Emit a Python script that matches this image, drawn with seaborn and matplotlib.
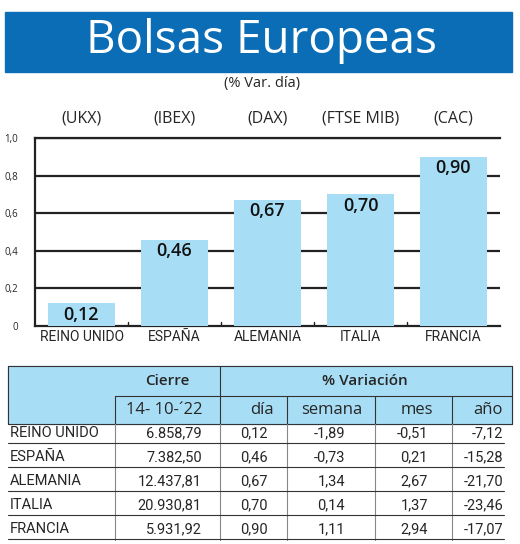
import matplotlib
matplotlib.use("Agg")
import matplotlib.pyplot as plt
import pandas as pd
import seaborn as sns

paises = ["REINO UNIDO", "ESPAÑA", "ALEMANIA", "ITALIA", "FRANCIA"]
indices = ["(UKX)", "(IBEX)", "(DAX)", "(FTSE MIB)", "(CAC)"]
var_dia = [0.12, 0.46, 0.67, 0.70, 0.90]
cierre = ["6.858,79", "7.382,50", "12.437,81", "20.930,81", "5.931,92"]
dia = ["0,12", "0,46", "0,67", "0,70", "0,90"]
semana = ["-1,89", "-0,73", "1,34", "0,14", "1,11"]
mes = ["-0,51", "0,21", "2,67", "1,37", "2,94"]
anio = ["-7,12", "-15,28", "-21,70", "-23,46", "-17,07"]
yticks = [0, 0.2, 0.4, 0.6, 0.8, 1.0]

W, H = 520, 544
BLUE = "#0a6db5"
LIGHT = "#a8def5"
FONT = ["Open Sans", "DejaVu Sans"]
COND = ["Liberation Sans Narrow", "Roboto", "DejaVu Sans"]

sns.set_style("white")
plt.rcParams["font.family"] = FONT

fig = plt.figure(figsize=(W / 100, H / 100), dpi=100)


def fx(x):
    return x / W


def fy(y):
    return 1 - y / H


# cabecera
fig.patches.append(plt.Rectangle((fx(5), fy(72)), fx(507), 60 / H, transform=fig.transFigure,
                                 color=BLUE, zorder=0))
fig.text(fx(262), fy(41), "Bolsas Europeas", color="white", fontsize=33, ha="center", va="center")
fig.text(fx(262), fy(83), "(% Var. día)", fontsize=10.5, ha="center", va="center")

# gráfico de barras
ax = fig.add_axes([fx(35), fy(326), fx(465), 188 / H])
df = pd.DataFrame({"pais": paises, "valor": var_dia})
sns.barplot(data=df, x="pais", y="valor", color=LIGHT, width=0.71, saturation=1, ax=ax,
            zorder=3, edgecolor="none")
ax.set_ylim(0, 1.0)
ax.set_xlim(-0.5, len(paises) - 0.5)
ax.set_yticks(yticks)
ax.set_yticklabels([f"{t:.1f}".replace(".", ",") if t else "0" for t in yticks], fontsize=7)
for t in yticks[1:]:
    ax.axhline(t, color="#222222", lw=1.6, zorder=1)
ax.spines["right"].set_visible(False)
for s in ["left", "bottom", "top"]:
    ax.spines[s].set_color("#222222")
    ax.spines[s].set_linewidth(1.6)
ax.set_xlabel("")
ax.set_ylabel("")
ax.tick_params(axis="x", length=0, pad=3)
ax.tick_params(axis="y", length=0, pad=12)
ax.set_xticks(range(len(paises)))
ax.set_xticklabels(paises, fontsize=10, family=COND)
for i in range(1, len(paises)):
    ax.plot([i - 0.5, i - 0.5], [0, 0.02], color="#222222", lw=1, zorder=2)
for i, v in enumerate(var_dia):
    ax.text(i, v - 0.012, f"{v:.2f}".replace(".", ","), ha="center", va="top",
            fontsize=13, weight="semibold", color="#111111", zorder=4)
    ax.text(i, 1.06, indices[i], ha="center", va="bottom", fontsize=11.5,
            transform=ax.get_xaxis_transform())

# tabla
fig.patches.append(plt.Rectangle((fx(8), fy(424)), fx(504), 58 / H, transform=fig.transFigure,
                                 color=LIGHT, zorder=0))


def hline(y, x0=8, x1=512, lw=0.8, c="#333333"):
    fig.add_artist(plt.Line2D([fx(x0), fx(x1)], [fy(y), fy(y)], color=c, lw=lw))


def vline(x, y0, y1, lw=0.8, c="#333333"):
    fig.add_artist(plt.Line2D([fx(x), fx(x)], [fy(y0), fy(y1)], color=c, lw=lw))


hline(366)
hline(396, 115, 512)
hline(424)
vline(8, 366, 424)
vline(512, 366, 424)
vline(220, 366, 424)
vline(220, 424, 540, c="#888888")
vline(115, 396, 424)
vline(115, 424, 540, c="#888888")
for x in [287, 375, 452]:
    vline(x, 396, 424)
    vline(x, 424, 540, c="#888888")

fig.text(fx(167), fy(381), "Cierre", fontsize=11, weight="semibold", ha="center", va="center")
fig.text(fx(365), fy(381), "% Variación", fontsize=11, weight="semibold", ha="center", va="center")
cols = [(202, "14- 10-´22"), (274, "día"), (362, "semana"), (433, "mes"), (503, "año")]
for x, t in cols:
    fig.text(fx(x), fy(410), t, fontsize=12, ha="right", va="center")

filas = zip(paises, cierre, dia, semana, mes, anio)
for r, (p, c, d, s, m, a) in enumerate(filas):
    y = 433 + r * 24
    fig.text(fx(10), fy(y), p, fontsize=10.5, family=COND, ha="left", va="center")
    for x, t in zip([202, 268, 345, 428, 503], [c, d, s, m, a]):
        fig.text(fx(x), fy(y), t, fontsize=10.5, family=COND, ha="right", va="center")
    hline(y + 10, 8, 504, 0.8)

fig.savefig("out.png", dpi=100)
